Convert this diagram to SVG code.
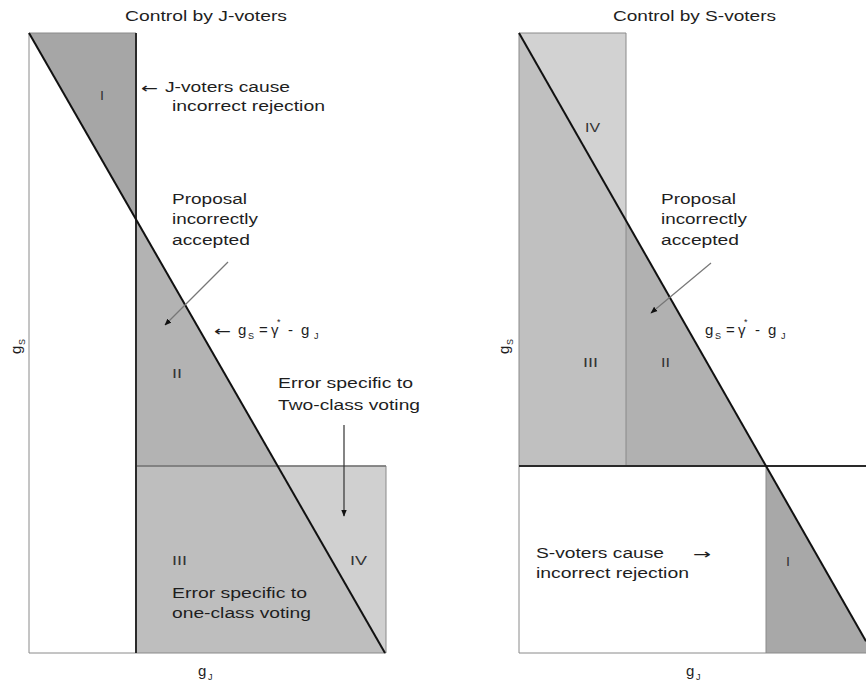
<svg xmlns="http://www.w3.org/2000/svg" width="866" height="687" viewBox="0 0 866 687">
<style>
text{font-family:"Liberation Sans",Arial,sans-serif;font-size:14px;fill:#1e1e1e}
.rn{font-size:12px;fill:#333}
.sub{font-size:9px}
.arr{font-family:"DejaVu Sans",sans-serif;font-size:14px}
.f{font-size:15px}
.diag{stroke:#111;stroke-width:2;fill:none}
.thin{stroke:#8a8a8a;stroke-width:1;fill:none}
.bold{stroke:#2a2a2a;stroke-width:2;fill:none}
.ptr{stroke:#777;stroke-width:1.2;fill:none}
</style>
<defs>
<marker id="ah" viewBox="0 0 10 10" refX="9" refY="5" markerWidth="7" markerHeight="7" orient="auto-start-reverse" markerUnits="userSpaceOnUse">
<path d="M0,1 L10,5 L0,9 z" fill="#111"/>
</marker>
</defs>
<rect width="866" height="687" fill="#fff"/>

<g id="left-panel">
<text x="125" y="21" textLength="162" lengthAdjust="spacingAndGlyphs">Control by J-voters</text>
<g id="L-region-I">
<polygon points="29,33 136,33 136,219.4" fill="#a6a6a6"/>
<text class="rn" x="100" y="100" textLength="4" lengthAdjust="spacingAndGlyphs">I</text>
</g>
<g id="L-region-II">
<polygon points="136,219.4 277.6,466 136,466" fill="#b3b3b3"/>
<text class="rn" x="172" y="378" textLength="10" lengthAdjust="spacingAndGlyphs">II</text>
</g>
<g id="L-region-III">
<polygon points="136,466 277.6,466 385,653 136,653" fill="#bebebe"/>
<text class="rn" x="172" y="565" textLength="15" lengthAdjust="spacingAndGlyphs">III</text>
</g>
<g id="L-region-IV">
<polygon points="277.6,466 386,466 386,653 385,653" fill="#d0d0d0"/>
<text class="rn" x="350" y="565" textLength="17" lengthAdjust="spacingAndGlyphs">IV</text>
</g>
<polyline class="thin" points="136,33 29,33 29,653 386,653 386,466 136,466"/>
<line x1="136" y1="466" x2="386" y2="466" stroke="#777" stroke-width="1.5"/>
<line class="bold" x1="136" y1="33" x2="136" y2="653"/>
<line class="diag" x1="29" y1="33" x2="385" y2="653"/>
<g id="L-label-reject">
<text class="arr" x="141" y="93" textLength="17" lengthAdjust="spacingAndGlyphs">←</text>
<text x="165" y="92" textLength="125" lengthAdjust="spacingAndGlyphs">J-voters cause</text>
<text x="172" y="111" textLength="153" lengthAdjust="spacingAndGlyphs">incorrect rejection</text>
</g>
<g id="L-label-accepted">
<text x="172" y="204" textLength="75" lengthAdjust="spacingAndGlyphs">Proposal</text>
<text x="172" y="224" textLength="86" lengthAdjust="spacingAndGlyphs">incorrectly</text>
<text x="172" y="245" textLength="78" lengthAdjust="spacingAndGlyphs">accepted</text>
</g>
<g id="L-formula">
<text class="arr" x="214" y="336" textLength="17" lengthAdjust="spacingAndGlyphs">←</text>
<text class="f" x="238" y="335">g</text>
<text class="sub" x="248" y="339">S</text>
<text class="f" x="259" y="335">=</text>
<text class="f" x="271" y="335">γ</text>
<text class="sub" x="277" y="325">*</text>
<text class="f" x="288" y="335">-</text>
<text class="f" x="301" y="335">g</text>
<text class="sub" x="314" y="339">J</text>
</g>
<g id="L-label-two-class">
<text x="278" y="388" textLength="135" lengthAdjust="spacingAndGlyphs">Error specific to</text>
<text x="278" y="410" textLength="142" lengthAdjust="spacingAndGlyphs">Two-class voting</text>
</g>
<g id="L-label-one-class">
<text x="172" y="598" textLength="135" lengthAdjust="spacingAndGlyphs">Error specific to</text>
<text x="172" y="618" textLength="139" lengthAdjust="spacingAndGlyphs">one-class voting</text>
</g>
<g id="L-axis-x"><text class="f" x="198" y="676">g</text><text class="sub" x="208" y="680">J</text></g>
<g id="L-axis-y" transform="translate(21,354) rotate(-90)"><text class="f" x="0" y="0">g</text><text class="sub" x="9" y="4">S</text></g>
</g>

<g id="right-panel">
<text x="613" y="21" textLength="163" lengthAdjust="spacingAndGlyphs">Control by S-voters</text>
<g id="R-region-IV">
<polygon points="519,33 626,33 626,220.6" fill="#d2d2d2"/>
<text class="rn" x="585" y="132" textLength="15" lengthAdjust="spacingAndGlyphs">IV</text>
</g>
<g id="R-region-III">
<polygon points="519,33 626,220.6 626,466 519,466" fill="#c0c0c0"/>
<text class="rn" x="583" y="367" textLength="15" lengthAdjust="spacingAndGlyphs">III</text>
</g>
<g id="R-region-II">
<polygon points="626,220.6 766,466 626,466" fill="#b1b1b1"/>
<text class="rn" x="661" y="367" textLength="9" lengthAdjust="spacingAndGlyphs">II</text>
</g>
<g id="R-region-I">
<polygon points="766,466 866,641.3 866,653 766,653" fill="#a8a8a8"/>
<text class="rn" x="786" y="566" textLength="4" lengthAdjust="spacingAndGlyphs">I</text>
</g>
<polyline class="thin" points="866,653 519,653 519,33 626,33 626,466"/>
<line class="thin" x1="766" y1="466" x2="766" y2="653"/>
<line class="bold" x1="519" y1="466" x2="866" y2="466"/>
<line class="diag" x1="519" y1="33" x2="866" y2="641.3"/>
<g id="R-label-accepted">
<text x="661" y="204" textLength="75" lengthAdjust="spacingAndGlyphs">Proposal</text>
<text x="661" y="224" textLength="86" lengthAdjust="spacingAndGlyphs">incorrectly</text>
<text x="661" y="245" textLength="78" lengthAdjust="spacingAndGlyphs">accepted</text>
</g>
<g id="R-formula">
<text class="f" x="705" y="335">g</text>
<text class="sub" x="715" y="339">S</text>
<text class="f" x="726" y="335">=</text>
<text class="f" x="738" y="335">γ</text>
<text class="sub" x="744" y="325">*</text>
<text class="f" x="755" y="335">-</text>
<text class="f" x="768" y="335">g</text>
<text class="sub" x="781" y="339">J</text>
</g>
<g id="R-label-reject">
<text x="536" y="558" textLength="128" lengthAdjust="spacingAndGlyphs">S-voters cause</text>
<text class="arr" x="693" y="559" textLength="18" lengthAdjust="spacingAndGlyphs">→</text>
<text x="536" y="578" textLength="153" lengthAdjust="spacingAndGlyphs">incorrect rejection</text>
</g>
<g id="R-axis-x"><text class="f" x="686" y="676">g</text><text class="sub" x="696" y="680">J</text></g>
<g id="R-axis-y" transform="translate(509,354) rotate(-90)"><text class="f" x="0" y="0">g</text><text class="sub" x="9" y="4">S</text></g>
</g>

<g id="connectors">
<line class="ptr" x1="228" y1="262" x2="165" y2="325" marker-end="url(#ah)"/>
<line x1="344" y1="425" x2="344" y2="516" stroke="#333" stroke-width="1.2" marker-end="url(#ah)"/>
<line class="ptr" x1="711" y1="263" x2="651" y2="313" marker-end="url(#ah)"/>
</g>
</svg>
